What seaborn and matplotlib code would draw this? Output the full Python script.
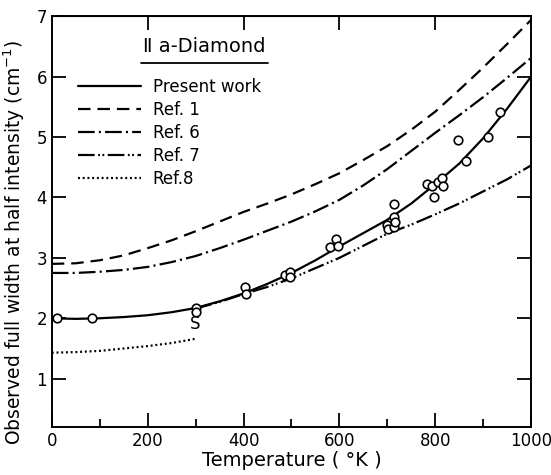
import seaborn as sns
import matplotlib.pyplot as plt

# curves (temperature in K, width in cm^-1)
temps = [0, 50, 100, 150, 200, 250, 300, 350, 400, 450, 500,
         550, 600, 650, 700, 750, 800, 850, 900, 950, 1000]
present = [2.0, 1.99, 2.0, 2.02, 2.05, 2.1, 2.17, 2.28, 2.41, 2.57, 2.75,
           2.96, 3.19, 3.41, 3.63, 3.9, 4.22, 4.56, 4.98, 5.47, 6.0]
ref1 = [2.9, 2.91, 2.96, 3.04, 3.16, 3.29, 3.44, 3.6, 3.76, 3.9, 4.05,
        4.22, 4.4, 4.62, 4.85, 5.12, 5.42, 5.78, 6.15, 6.54, 6.94]
ref6 = [2.75, 2.75, 2.77, 2.8, 2.85, 2.93, 3.03, 3.16, 3.3, 3.45, 3.6,
        3.77, 3.96, 4.2, 4.47, 4.77, 5.07, 5.36, 5.66, 5.98, 6.31]
temps7 = [300, 350, 400, 450, 500, 550, 600, 650, 700, 750, 800, 850, 900, 950, 1000]
ref7 = [2.16, 2.27, 2.4, 2.52, 2.66, 2.83, 3.0, 3.2, 3.4, 3.55, 3.72, 3.9, 4.1, 4.3, 4.53]
temps8 = [0, 50, 100, 150, 200, 250, 300]
ref8 = [1.43, 1.44, 1.46, 1.5, 1.54, 1.59, 1.66]

# measured points
meas_t = [10, 83, 300, 300, 402, 406, 487, 496, 496, 581, 592, 598,
          700, 702, 713, 713, 713, 715, 783, 794, 798, 806, 815, 817,
          848, 864, 910, 935]
meas_w = [2.0, 2.0, 2.17, 2.11, 2.51, 2.4, 2.71, 2.76, 2.68, 3.18, 3.31, 3.19,
          3.54, 3.47, 3.89, 3.67, 3.51, 3.59, 4.22, 4.19, 4.0, 4.25, 4.32, 4.19,
          4.95, 4.6, 5.0, 5.41]

sns.set_style("ticks")
plt.rcParams['font.family'] = ['DejaVu Sans']
plt.rcParams['lines.scale_dashes'] = False
for k in ['text.color', 'axes.labelcolor', 'xtick.color', 'ytick.color', 'axes.edgecolor']:
    plt.rcParams[k] = 'black'

fig = plt.figure(figsize=(5.51, 4.75), dpi=100)
ax = fig.add_axes([0.094, 0.101, 0.870, 0.865])

lw = 1.6
sns.lineplot(x=temps, y=present, color='k', lw=lw, ls='-', label='Present work', ax=ax)
sns.lineplot(x=temps, y=ref1, color='k', lw=lw, ls=(0, (9, 5)), label='Ref. 1', ax=ax)
sns.lineplot(x=temps, y=ref6, color='k', lw=lw, ls=(0, (12, 3, 1.5, 3)), label='Ref. 6', ax=ax)
sns.lineplot(x=temps7, y=ref7, color='k', lw=lw, ls=(0, (12, 2.5, 1.3, 1.8, 1.3, 2.5)),
             label='Ref. 7', ax=ax)
sns.lineplot(x=temps8, y=ref8, color='k', lw=lw, ls=(0, (1.4, 2.0)), label='Ref.8', ax=ax)
sns.scatterplot(x=meas_t, y=meas_w, marker='o', s=38, facecolor='white',
                edgecolor='k', linewidth=1.2, zorder=5, ax=ax)

ax.text(300, 1.9, 'S', ha='center', va='center', fontsize=12)

ax.set_xlim(0, 1000)
ax.set_ylim(0.2, 7)
ax.set_xticks(range(0, 1001, 200))
ax.set_xticks(range(100, 1000, 200), minor=True)
ax.set_yticks([1, 2, 3, 4, 5, 6, 7])
ax.tick_params(axis='both', which='major', direction='in', length=10, width=1.3,
               labelsize=12, top=False, right=True)
ax.tick_params(axis='x', which='minor', direction='in', length=6, width=1.3)
for s in ax.spines.values():
    s.set_linewidth(1.4)
    s.set_visible(True)

# top ticks at 200..800
top = ax.secondary_xaxis('top')
top.set_xticks([200, 400, 600, 800])
top.tick_params(direction='in', length=10, width=1.3, labelsize=0)
top.set_xticklabels([])

ax.set_xlabel('Temperature ( °K )', fontsize=14, labelpad=1)
ax.set_ylabel('Observed full width at half intensity (cm$^{-1}$)', fontsize=13.5)
ax.yaxis.set_label_coords(-0.052, 0.45)

handles, labels = ax.get_legend_handles_labels()
ax.legend(handles, labels, loc='upper left', bbox_to_anchor=(0.054, 0.85),
          frameon=False, fontsize=12, handlelength=3.8, handletextpad=0.7,
          labelspacing=0.3, borderpad=0, borderaxespad=0)
ax.text(0.318, 0.925, 'Ⅱ a-Diamond', transform=ax.transAxes, ha='center',
        va='center', fontsize=14)
ax.plot([0.186, 0.452], [0.886, 0.886], transform=ax.transAxes, color='k', lw=1.3)

fig.savefig('out.png', dpi=100)
